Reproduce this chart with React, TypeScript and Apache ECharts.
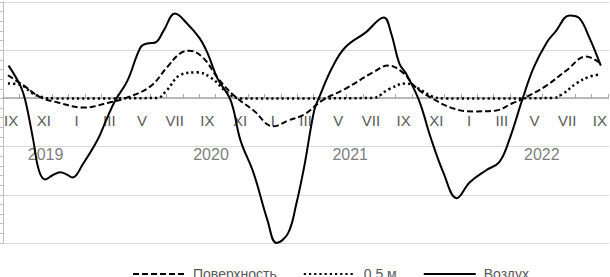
import { useEffect, useRef } from 'react';
import * as echarts from 'echarts';

// month index 0 = IX 2019 ... 36 = IX 2022
const monthLabels = [
  'IX', 'X', 'XI', 'XII', 'I', 'II', 'III', 'IV', 'V', 'VI', 'VII', 'VIII',
  'IX', 'X', 'XI', 'XII', 'I', 'II', 'III', 'IV', 'V', 'VI', 'VII', 'VIII',
  'IX', 'X', 'XI', 'XII', 'I', 'II', 'III', 'IV', 'V', 'VI', 'VII', 'VIII',
  'IX',
];

const yearLabels = ['2019', '2020', '2021', '2022'];
const yearMonthPos = [2.1, 12.2, 20.7, 32.4];

const seriesNames = ['Поверхность', '0,5 м', 'Воздух'];

// [month index, °C]
const surfaceData: [number, number][] = [
  [-0.2, 4.8], [0.75, 2.7], [1.8, 0.2], [2.8, -0.8], [4.4, -1.9], [6.05, -0.8],
  [7.1, 0.2], [8.5, 2.5], [9.5, 6.4], [10.3, 9.3], [10.9, 9.9], [11.75, 8.3],
  [12.6, 4.3], [13.6, 0.6], [14.8, -2.5], [16.0, -5.8], [16.9, -4.6], [17.9, -3.3],
  [19.0, -0.4], [20.4, 2.0], [22.1, 5.4], [23.0, 6.8], [23.9, 5.4], [24.7, 2.3],
  [25.7, 0.0], [27.0, -2.1], [28.2, -2.7], [29.6, -2.5], [30.6, -1.0], [31.4, 0.2],
  [32.7, 2.7], [33.9, 5.8], [35.1, 8.7], [36.0, 7.2],
];

const depthData: [number, number][] = [
  [-0.2, 3.1], [0.5, 2.9], [1.35, 1.0], [2.0, 0.2], [2.6, 0.0], [5.0, 0.0],
  [8.9, 0.1], [9.5, 1.7], [10.3, 4.8], [11.35, 5.4], [12.2, 4.3], [13.2, 1.2],
  [14.0, 0.0], [18.0, 0.0], [22.1, 0.1], [23.05, 1.9], [24.1, 3.1], [24.9, 2.0],
  [25.7, 0.4], [26.5, 0.0], [30.0, 0.0], [33.1, 0.1], [33.7, 1.0], [34.5, 3.1],
  [35.3, 4.5], [36.0, 5.0],
];

const airData: [number, number][] = [
  [-0.16, 6.8], [0.55, 2.7], [0.86, -0.4], [1.35, -8.7], [1.7, -15.0], [2.08, -16.8],
  [2.5, -16.0], [3.0, -15.3], [3.4, -15.8], [3.73, -16.4], [4.4, -13.5], [5.26, -8.7],
  [5.8, -4.5], [6.36, -0.4], [7.1, 3.7], [7.9, 10.6], [8.3, 11.4], [8.8, 11.6],
  [9.3, 14.0], [10.0, 17.6], [10.75, 15.5], [11.5, 12.5], [12.0, 9.3], [12.6, 4.1],
  [13.4, -0.4], [14.0, -8.7], [14.8, -15.5], [15.65, -25.3], [16.2, -30.0], [16.9, -28.0],
  [17.4, -22.0], [17.9, -14.0], [18.5, -2.5], [18.8, 0.2], [19.6, 6.4], [20.4, 10.6],
  [21.65, 13.7], [22.75, 16.8], [23.2, 13.5], [23.7, 7.2], [24.1, 5.2], [24.9, -0.4],
  [25.6, -8.0], [26.4, -15.5], [27.2, -20.7], [28.0, -17.4], [29.0, -14.9], [29.8, -13.2],
  [30.4, -8.7], [31.25, 0.2], [31.9, 6.4], [32.7, 11.6], [33.2, 13.7], [34.1, 17.2],
  [34.7, 16.6], [35.3, 12.6], [36.0, 6.8],
];

export default function App() {
  const ref = useRef<HTMLDivElement>(null);

  useEffect(() => {
    const chart = echarts.init(ref.current!, null, { renderer: 'svg' });
    const font = '"Liberation Sans", Arial, sans-serif';
    const lineSeries = (name: string, data: [number, number][], lineStyle: any) => ({
      name,
      type: 'line',
      xAxisIndex: 0,
      yAxisIndex: 0,
      data,
      smooth: 0.4,
      symbol: 'none',
      z: 5,
      lineStyle: { color: '#000', ...lineStyle },
      itemStyle: { color: '#000' },
    });
    chart.setOption({
      animation: false,
      backgroundColor: '#ffffff',
      textStyle: { fontFamily: font },
      grid: [
        { left: 3, right: 1, top: 2, bottom: 47, containLabel: false },
        // upper half: its bottom edge is the zero line, where the month axis sits
        { left: 3, right: 1, top: 2, height: 96, containLabel: false },
      ],
      legend: {
        top: 267,
        left: 132,
        padding: 0,
        itemWidth: 52,
        itemHeight: 14,
        itemGap: 26,
        data: seriesNames,
        itemStyle: { opacity: 0, borderWidth: 0 },
        textStyle: {
          fontSize: 14,
          color: '#595959',
          fontFamily: font,
          padding: [5, 0, 0, 3],
        },
      },
      xAxis: [
        {
          gridIndex: 0,
          type: 'value',
          min: -0.5,
          max: 36.5,
          show: false,
        },
        {
          gridIndex: 1,
          type: 'category',
          position: 'bottom',
          data: monthLabels,
          boundaryGap: true,
          z: 4,
          axisLine: { onZero: false, lineStyle: { color: '#a6a6a6', width: 1.5 } },
          axisTick: { show: true, inside: true, length: 4, interval: 0, lineStyle: { color: '#a6a6a6' } },
          axisLabel: { interval: 1, margin: 15, fontSize: 15, color: '#595959', fontFamily: font },
          splitLine: { show: false },
        },
      ],
      yAxis: [
        {
          gridIndex: 0,
          type: 'value',
          min: -30,
          max: 20,
          interval: 10,
          axisLine: { show: true, onZero: false, lineStyle: { color: '#bfbfbf' } },
          axisTick: { show: true, length: 3, lineStyle: { color: '#bfbfbf' } },
          minorTick: { show: true, splitNumber: 5, length: 3, lineStyle: { color: '#bfbfbf' } },
          axisLabel: { show: false },
          splitLine: { show: true, lineStyle: { color: '#d9d9d9', width: 1 } },
        },
        {
          gridIndex: 1,
          type: 'value',
          min: 0,
          max: 20,
          show: false,
        },
      ],
      series: [
        lineSeries(seriesNames[0], surfaceData, { width: 2, type: [6, 3] }),
        lineSeries(seriesNames[1], depthData, { width: 2.5, type: [2.2, 3] }),
        lineSeries(seriesNames[2], airData, { width: 2 }),
        {
          name: 'years',
          type: 'scatter',
          xAxisIndex: 0,
          yAxisIndex: 0,
          silent: true,
          symbolSize: 0,
          data: yearMonthPos.map((m, i) => ({ value: [m, -11.6], name: yearLabels[i] })),
          label: {
            show: true,
            position: 'inside',
            formatter: (p: any) => p.name,
            fontSize: 16,
            color: '#595959',
            fontFamily: font,
          },
        },
      ],
    });
    return () => chart.dispose();
  }, []);

  return (
    <div
      ref={ref}
      style={{ position: 'absolute', left: 0, top: 0, width: 610, height: 290 }}
    />
  );
}
